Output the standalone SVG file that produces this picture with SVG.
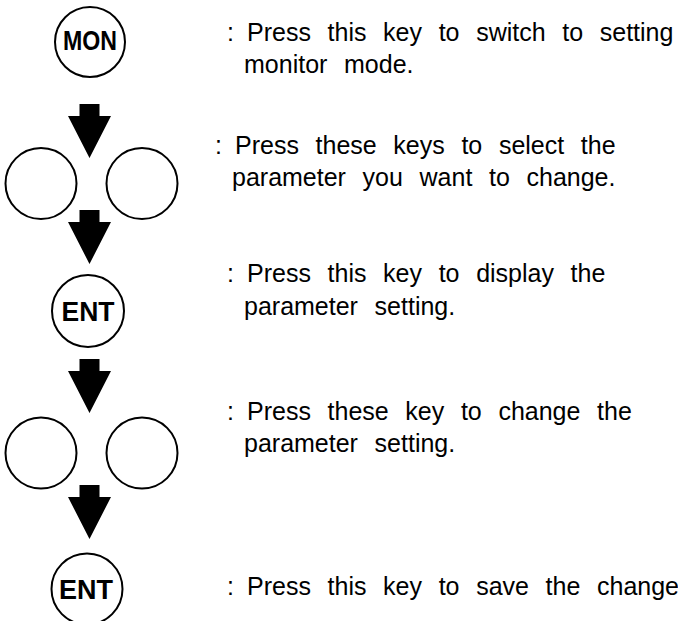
<svg xmlns="http://www.w3.org/2000/svg" width="678" height="621" viewBox="0 0 678 621">
<defs>
<style>
.key{fill:#fff;stroke:#000;stroke-width:2}
.kt{font-family:"Liberation Sans",Arial,sans-serif;font-weight:bold;font-size:27px;fill:#000;text-anchor:middle}
.d{font-family:"Liberation Sans",Arial,sans-serif;font-size:25px;fill:#000;word-spacing:9.7px}
.c{font-family:"Liberation Sans",Arial,sans-serif;font-size:25px;fill:#000}
.arr{fill:#000}
</style>
<path id="ar" class="arr" d="M-10,0 H10 V12 H21.5 L0,54 L-21.5,12 H-10 Z"/>
</defs>
<rect width="678" height="621" fill="#fff"/>
<g id="connectors">
<use href="#ar" x="89.5" y="104"/>
<use href="#ar" x="89.5" y="210"/>
<use href="#ar" x="89.5" y="359"/>
<use href="#ar" x="89.5" y="485"/>
</g>
<g id="mon">
<circle class="key" cx="90" cy="42" r="35"/>
<text class="kt" x="90" y="50" textLength="54" lengthAdjust="spacingAndGlyphs">MON</text>
</g>
<g id="sel-left"><circle class="key" cx="41" cy="183.5" r="35.5"/></g>
<g id="sel-right"><circle class="key" cx="142" cy="183.5" r="35.5"/></g>
<g id="ent1">
<circle class="key" cx="88" cy="311" r="36"/>
<text class="kt" x="88" y="321" textLength="53" lengthAdjust="spacingAndGlyphs">ENT</text>
</g>
<g id="chg-left"><circle class="key" cx="41" cy="453" r="35.5"/></g>
<g id="chg-right"><circle class="key" cx="142" cy="453" r="35.5"/></g>
<g id="ent2">
<circle class="key" cx="87" cy="589" r="35.5"/>
<text class="kt" x="86" y="599" textLength="54" lengthAdjust="spacingAndGlyphs">ENT</text>
</g>
<g id="labels">
<text class="c" x="227" y="41">:</text>
<text class="d" x="247" y="41">Press this key to switch to setting</text>
<text class="d" x="244" y="73">monitor mode.</text>
<text class="c" x="215" y="154">:</text>
<text class="d" x="235" y="154">Press these keys to select the</text>
<text class="d" x="232" y="186">parameter you want to change.</text>
<text class="c" x="227" y="282">:</text>
<text class="d" x="247" y="282">Press this key to display the</text>
<text class="d" x="244" y="315">parameter setting.</text>
<text class="c" x="227" y="420">:</text>
<text class="d" x="247" y="420">Press these key to change the</text>
<text class="d" x="244" y="452">parameter setting.</text>
<text class="c" x="227" y="595">:</text>
<text class="d" x="247" y="595">Press this key to save the change</text>
</g>
</svg>
